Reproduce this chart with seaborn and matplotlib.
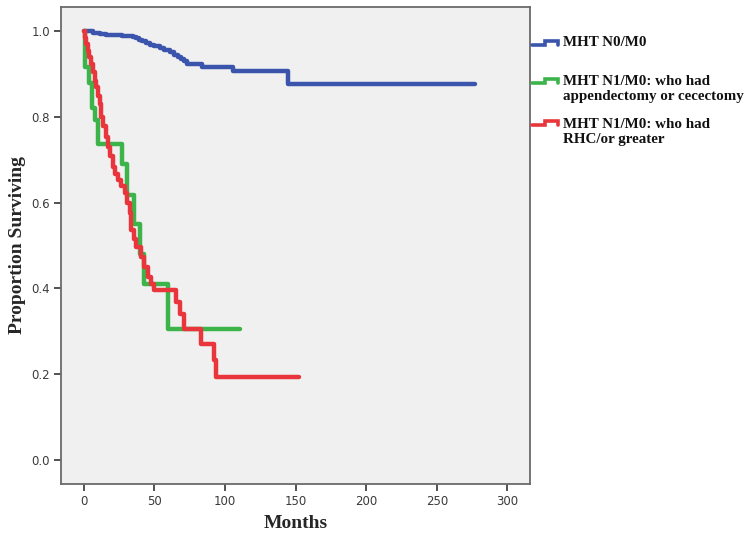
import numpy as np
import pandas as pd
import matplotlib
matplotlib.use("Agg")
import matplotlib.pyplot as plt
import seaborn as sns
from matplotlib.lines import Line2D

# --- Data ---
groups = ["MHT N0/M0",
          "MHT N1/M0: who had\nappendectomy or cecectomy",
          "MHT N1/M0: who had\nRHC/or greater"]
colors = ["#3a55ab", "#3cb44a", "#e8363c"]

n0_months = [0, 7, 11.6, 16, 27, 35, 37, 39, 41, 44, 47, 50, 54, 57, 61, 64,
             67, 69, 71.4, 73, 84, 105.6, 145]
n0_surv = [1.0, 0.996, 0.994, 0.992, 0.989, 0.987, 0.984, 0.980, 0.977, 0.973,
           0.969, 0.965, 0.961, 0.956, 0.952, 0.946, 0.941, 0.936, 0.930,
           0.924, 0.918, 0.908, 0.877]
n0_last = 277

app_months = [0, 0.7, 3.5, 5.9, 8.3, 9.9, 27.5, 31, 35.8, 39.6, 42.5, 59.5]
app_surv = [1.0, 0.918, 0.879, 0.820, 0.793, 0.738, 0.690, 0.617, 0.550,
            0.480, 0.410, 0.306]
app_last = 110.8

rhc_months = [0, 1, 2, 3, 4, 5, 6.5, 8, 9, 10, 11.5, 12.5, 14, 16, 17.5, 19,
              20.7, 22.5, 24.3, 26.5, 29, 31, 32.5, 33.7, 35.5, 37.3, 40.8,
              43, 45.5, 48, 49.5, 65.5, 67.9, 71.4, 83, 92.6, 93.8]
rhc_surv = [1.0, 0.985, 0.970, 0.955, 0.940, 0.925, 0.905, 0.885, 0.870,
            0.850, 0.830, 0.800, 0.780, 0.754, 0.730, 0.710, 0.684, 0.668,
            0.653, 0.638, 0.622, 0.600, 0.575, 0.536, 0.515, 0.497, 0.473,
            0.450, 0.427, 0.410, 0.395, 0.367, 0.340, 0.306, 0.270, 0.232,
            0.193]
rhc_last = 152.3

x_ticks = [0, 50, 100, 150, 200, 250, 300]
y_ticks = [0.0, 0.2, 0.4, 0.6, 0.8, 1.0]


def km_frame(name, months, surv, last):
    # extend the final step to the last follow-up time
    return pd.DataFrame({"Months": months + [last],
                         "Surv": surv + [surv[-1]],
                         "Group": name})


df = pd.concat([km_frame(groups[0], n0_months, n0_surv, n0_last),
                km_frame(groups[1], app_months, app_surv, app_last),
                km_frame(groups[2], rhc_months, rhc_surv, rhc_last)],
               ignore_index=True)

# --- Plot ---
sns.set_theme(style="white")
plt.rcParams["font.family"] = ["DejaVu Sans"]

W, H = 750, 538
fig = plt.figure(figsize=(W / 100, H / 100), dpi=100)
ax = fig.add_axes([61 / W, 1 - 484 / H, (530 - 61) / W, (484 - 7) / H])
ax.set_facecolor("#f0f0f0")

sns.lineplot(data=df, x="Months", y="Surv", hue="Group", palette=colors,
             hue_order=groups, drawstyle="steps-post", estimator=None,
             sort=False, linewidth=3.2, legend=False, ax=ax)

ax.set_xlim(-16, 316)
ax.set_ylim(-0.057, 1.057)
ax.set_xticks(x_ticks)
ax.set_yticks(y_ticks)
ax.set_yticklabels([f"{v:.1f}" for v in y_ticks])
ax.tick_params(axis="both", direction="out", length=5, width=1.3,
               color="#444444", labelsize=8.5, labelcolor="#3a3a3a",
               left=True, bottom=True, pad=3)
for sp in ax.spines.values():
    sp.set_color("#6a6a6a")
    sp.set_linewidth(1.3)

serif = dict(family="Liberation Serif", fontweight="bold", fontsize=14)
ax.set_xlabel("Months", labelpad=5, **serif)
ax.set_ylabel("Proportion Surviving", labelpad=4, **serif)

# --- Legend drawn beside the axes with step-shaped keys ---
first_line_y = [43, 81, 123]
text_center_y = [43, 89, 132]
for lab, col, y1, yc in zip(groups, colors, first_line_y, text_center_y):
    xs = np.array([532, 545, 545, 558, 558])
    ys = np.array([y1 + 2, y1 + 2, y1 - 2.5, y1 - 2.5, y1 + 1.5])
    fig.add_artist(Line2D(xs / W, 1 - ys / H, color=col, lw=2.6,
                          transform=fig.transFigure, solid_joinstyle="miter"))
    fig.text(563 / W, 1 - yc / H, lab, va="center", ha="left",
             family="Liberation Serif", fontweight="bold", fontsize=10.8,
             linespacing=1.2, color="#111111")

fig.savefig("out.png", dpi=100)
plt.close(fig)
